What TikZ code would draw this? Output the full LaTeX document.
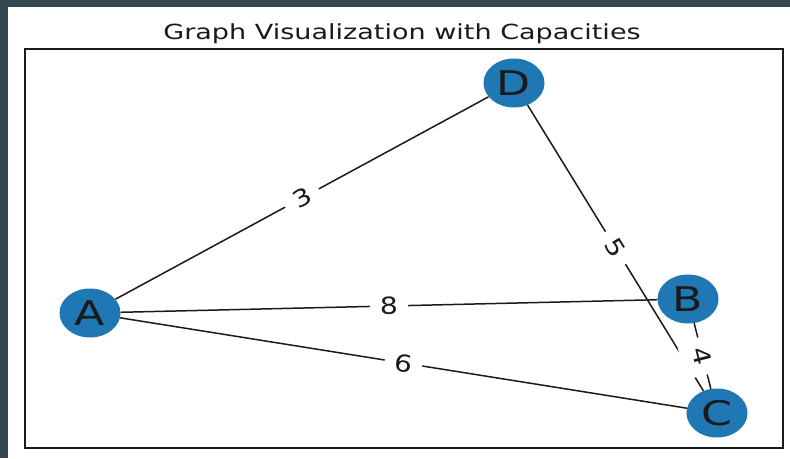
\documentclass[tikz,border=0pt]{standalone}
\usepackage{fontspec}
\setmainfont{DejaVu Sans}
\usetikzlibrary{shapes.geometric}
\definecolor{frameslate}{HTML}{36474F}
\definecolor{nodeblue}{HTML}{1F78B4}
\definecolor{inkgray}{HTML}{1A1A1A}

\begin{document}
\begin{tikzpicture}[x=1pt,y=-1pt,
  vertex/.style={ellipse, fill=nodeblue, minimum width=61pt, minimum height=49pt,
    inner sep=0pt, text=inkgray, font=\fontsize{34}{34}\selectfont},
  link/.style={draw=inkgray, line width=1.5pt},
  weight/.style={fill=white, rounded corners=6pt, minimum width=38pt, minimum height=44pt,
    inner sep=0pt, sloped, text=inkgray, font=\fontsize{23.5}{24}\selectfont}]
% canvas, dark frame strips and axes box
\useasboundingbox (0,0) rectangle (790,458);
\fill[white] (0,0) rectangle (790,458);
\fill[frameslate] (0,0) rectangle (790,7);
\fill[frameslate] (0,0) rectangle (8,458);
\draw[line width=1.2pt, inkgray] (25,49) rectangle (783,448);

% title
\node[anchor=base, inner sep=0pt, text=inkgray, font=\fontsize{20.8}{21}\selectfont] (title) at (402,39)
  {\scalebox{1.3}[1]{Graph Visualization with Capacities}};

% vertices
\node[vertex] (a) at (90,313) {\scalebox{1.3}[1]{A}};
\node[vertex] (d) at (514,83) {\scalebox{1.3}[1]{D}};
\node[vertex] (b) at (688,299) {\scalebox{1.3}[1]{B}};
\node[vertex] (c) at (717,413) {\scalebox{1.3}[1]{C}};

% edges
\draw[link] (a) -- (d);
\draw[link] (a) -- (b);
\draw[link] (a) -- (c);
\draw[link] (d) -- (c);
\draw[link] (b) -- (c);

% capacity labels, drawn last so their boxes mask the lines
\path (a.center) -- (d.center) node[weight, midway] (w3) {\scalebox{1.2}[1]{3}};
\path (a.center) -- (b.center) node[weight, midway] (w8) {\scalebox{1.2}[1]{8}};
\path (a.center) -- (c.center) node[weight, midway] (w6) {\scalebox{1.2}[1]{6}};
\path (d.center) -- (c.center) node[weight, midway] (w5) {\scalebox{1.2}[1]{5}};
\path (b.center) -- (c.center) node[weight, midway] (w4) {\scalebox{1.2}[1]{4}};
\end{tikzpicture}
\end{document}
